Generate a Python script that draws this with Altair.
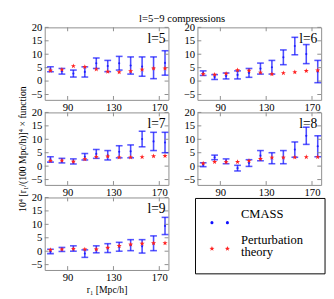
import altair as alt
import pandas as pd

# ---------------- data ----------------
r = [75, 85, 95, 105, 115, 125, 135, 145, 155, 165, 175]
panel_labels = ["l=5", "l=6", "l=7", "l=8", "l=9"]

# CMASS error bars (upper / lower ends)
l5_hi = [5.3, 4.7, 4.1, 5.3, 8.6, 7.7, 9.2, 9.0, 9.0, 9.0, 11.3]
l5_lo = [3.5, 2.6, 1.5, 1.5, 4.7, 3.5, 4.1, 2.6, 1.8, 0.9, 2.2]
l6_hi = [3.8, 2.4, 3.0, 3.8, 4.7, 6.7, 7.7, 11.6, 16.3, 13.6, 7.7]
l6_lo = [2.1, 0.6, 0.8, 0.8, 1.4, 2.6, 2.6, 6.1, 9.8, 6.5, -0.6]
l7_hi = [3.5, 2.9, 2.7, 4.7, 6.2, 5.8, 7.6, 7.9, 13.0, 12.6, 12.6]
l7_lo = [1.5, 1.2, 0.8, 2.3, 2.9, 2.3, 3.1, 3.1, 7.2, 5.8, 5.0]
l8_hi = [1.25, 4.1, 2.7, 0.3, 2.4, 5.8, 5.0, 5.8, 9.0, 14.5, 11.3]
l8_lo = [-0.2, 2.4, 0.9, -1.8, -0.1, 2.0, 0.9, 0.9, 3.3, 8.1, 3.5]
l9_hi = [0.7, 1.4, 2.0, 0.5, 2.0, 2.8, 3.3, 4.3, 4.3, 5.7, 12.6]
l9_lo = [-0.9, -0.1, 0.0, -2.3, -0.6, -0.5, 0.0, 0.2, -0.7, 0.2, 6.2]

# Perturbation theory (red stars)
l5_pt = [3.9, 4.3, 5.6, 5.3, 4.4, 3.5, 3.3, 3.7, 4.3, 4.7, 4.7]
l6_pt = [2.6, 2.4, 2.8, 4.1, 3.9, 3.2, 2.6, 3.0, 3.3, 3.8, 4.0]
l7_pt = [2.0, 2.1, 1.7, 2.6, 3.5, 3.6, 3.3, 3.3, 3.4, 3.7, 3.8]
l8_pt = [1.0, 1.6, 1.5, 1.6, 2.0, 2.7, 3.2, 3.2, 3.3, 3.4, 3.4]
l9_pt = [0.5, 0.7, 0.9, 0.7, 0.7, 1.3, 2.0, 2.5, 2.8, 3.0, 3.0]

x_ticks = [90, 130, 170]
y_ticks = [-5, 0, 5, 10, 15, 20]
legend_labels = ["CMASS", "Perturbation", "theory"]

title_text = "l=5\u22129  compressions"
y_title = "10\u2074 [r\u2081/(100  Mpc/h)]\u2074 \u00d7 function"
x_title = "r\u2081  [Mpc/h]"

# ---------------- styling ----------------
W, H = 128, 75
FONT = "Liberation Serif"
BLUE = "#1010ff"
RED = "#ff2020"
FRAME = "#8c8c8c"
STAR = ("M0,-1L0.235,-0.324L0.951,-0.309L0.38,0.124L0.588,0.809L0,0.4"
        "L-0.588,0.809L-0.38,0.124L-0.951,-0.309L-0.235,-0.324Z")
XDOM = [70, 178]
YDOM = [-7, 20]


def panel(label, lo, hi, pt, ytitle=None, xtitle=None, lab_dx=3):
    df = pd.DataFrame({"r": r, "lo": lo, "hi": hi, "pt": pt})
    df["mid"] = (df["lo"] + df["hi"]) / 2
    xs = alt.Scale(domain=XDOM, nice=False, zero=False)
    ys = alt.Scale(domain=YDOM, nice=False, zero=False)
    xaxis = alt.Axis(values=x_ticks, title=xtitle, labelPadding=2, titlePadding=2)
    yaxis = alt.Axis(values=y_ticks, title=ytitle, labelPadding=3)

    def X(f):
        return alt.X(f, type="quantitative", scale=xs, axis=xaxis)

    def Y(f):
        return alt.Y(f, type="quantitative", scale=ys, axis=yaxis)

    base = alt.Chart(df)
    bars = base.mark_rule(color=BLUE, strokeWidth=1.6, opacity=0.75).encode(
        x=X("r"), y=Y("lo"), y2=alt.Y2("hi"))
    cap_lo = base.mark_tick(color=BLUE, thickness=1.6, size=7,
                            orient="horizontal").encode(x=X("r"), y=Y("lo"))
    cap_hi = base.mark_tick(color=BLUE, thickness=1.6, size=7,
                            orient="horizontal").encode(x=X("r"), y=Y("hi"))
    mids = base.mark_circle(size=5, color=BLUE, opacity=0.8).encode(
        x=X("r"), y=Y("mid"))
    stars = base.mark_point(shape=STAR, size=30, color=RED, filled=True,
                            opacity=1).encode(x=X("r"), y=Y("pt"))
    ty = alt.Chart(pd.DataFrame({"t": y_ticks}))
    tx = alt.Chart(pd.DataFrame({"t": x_ticks}))
    tick_l = ty.mark_rule(color=FRAME, strokeWidth=1).encode(
        y=Y("t"), x=alt.value(0), x2=alt.value(4))
    tick_r = ty.mark_rule(color=FRAME, strokeWidth=1).encode(
        y=Y("t"), x=alt.value(W - 4), x2=alt.value(W))
    tick_b = tx.mark_rule(color=FRAME, strokeWidth=1).encode(
        x=X("t"), y=alt.value(H - 4), y2=alt.value(H))
    tick_t = tx.mark_rule(color=FRAME, strokeWidth=1).encode(
        x=X("t"), y=alt.value(0), y2=alt.value(4))
    lab = alt.Chart(pd.DataFrame({"lab": [label]})).mark_text(
        align="right", baseline="top", font=FONT, fontSize=14, color="black"
    ).encode(x=alt.value(W - lab_dx), y=alt.value(5), text="lab:N")
    return alt.layer(bars, tick_l, tick_r, tick_b, tick_t, cap_lo, cap_hi,
                     mids, stars, lab).properties(width=W, height=H)


p5 = panel(panel_labels[0], l5_lo, l5_hi, l5_pt)
p6 = panel(panel_labels[1], l6_lo, l6_hi, l6_pt, lab_dx=4)
p7 = panel(panel_labels[2], l7_lo, l7_hi, l7_pt, ytitle=y_title)
p8 = panel(panel_labels[3], l8_lo, l8_hi, l8_pt, lab_dx=4)
p9 = panel(panel_labels[4], l9_lo, l9_hi, l9_pt, xtitle=x_title)

# ---------------- legend box ----------------
LW, LH = 132, 80
leg_df = pd.DataFrame({"txt": legend_labels, "ty": [17, 44, 57]})
sym_df = pd.DataFrame({
    "sx": [15, 31, 15, 31],
    "sy": [26, 26, 53, 53],
    "kind": ["CMASS", "CMASS", "Perturbation theory", "Perturbation theory"],
})
px = alt.Scale(domain=[0, LW], range=[0, LW])
py = alt.Scale(domain=[0, LH], range=[0, LH])
leg_box = alt.Chart(pd.DataFrame({"k": [0]})).mark_rect(
    fill="white", stroke="black", strokeWidth=1
).encode(x=alt.value(-2), x2=alt.value(LW), y=alt.value(1), y2=alt.value(79))
leg_dots = alt.Chart(sym_df).transform_filter("datum.kind == 'CMASS'").mark_circle(
    size=10, color=BLUE, opacity=1).encode(
    x=alt.X("sx:Q", scale=px, axis=None), y=alt.Y("sy:Q", scale=py, axis=None))
leg_stars = alt.Chart(sym_df).transform_filter("datum.kind != 'CMASS'").mark_point(
    shape=STAR, size=30, color=RED, filled=True, opacity=1).encode(
    x=alt.X("sx:Q", scale=px, axis=None), y=alt.Y("sy:Q", scale=py, axis=None))
leg_text = alt.Chart(leg_df).mark_text(
    align="left", baseline="middle", font=FONT, fontSize=13, color="black"
).encode(x=alt.value(45), y=alt.Y("ty:Q", scale=py, axis=None), text="txt:N")
leg = alt.layer(leg_box, leg_dots, leg_stars, leg_text).properties(
    width=LW, height=LH, view=alt.ViewBackground(strokeOpacity=0))

chart = alt.concat(
    p5, p6, p7, p8, p9, leg, columns=2, bounds="flush",
    spacing={"row": 13, "column": 30},
    title=alt.Title(title_text, fontSize=11, font=FONT, fontWeight="normal",
                    anchor="middle", color="black", offset=-3, dx=11),
    padding={"left": 9, "top": 0, "right": 0, "bottom": 0},
).configure_view(stroke=FRAME, strokeWidth=1).configure_axis(
    grid=False, domain=False, ticks=False, labelFont=FONT, titleFont=FONT,
    labelFontSize=11, titleFontSize=10, labelColor="black", titleColor="black",
    titlePadding=3, titleFontWeight="normal",
)

chart.save("out.html", embed_options={"renderer": "svg", "actions": False})
